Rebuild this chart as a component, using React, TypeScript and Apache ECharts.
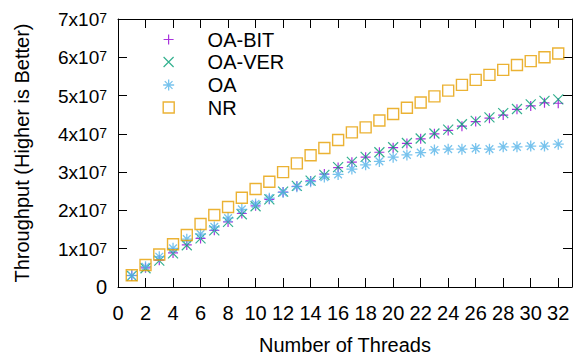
import React, { useEffect, useRef } from "react";
import * as echarts from "echarts";

// Throughput values in units of 10^7
const threads = [1, 2, 3, 4, 5, 6, 7, 8, 9, 10, 11, 12, 13, 14, 15, 16, 17, 18, 19, 20, 21, 22, 23, 24, 25, 26, 27, 28, 29, 30, 31, 32];
const oaBit = [0.30, 0.50, 0.70, 0.89, 1.10, 1.27, 1.48, 1.70, 1.92, 2.12, 2.29, 2.48, 2.63, 2.77, 2.95, 3.12, 3.26, 3.39, 3.52, 3.64, 3.75, 3.87, 4.00, 4.09, 4.20, 4.32, 4.41, 4.49, 4.64, 4.73, 4.81, 4.80];
const oaVer = [0.29, 0.49, 0.69, 0.88, 1.09, 1.27, 1.48, 1.70, 1.90, 2.11, 2.29, 2.49, 2.64, 2.78, 2.93, 3.13, 3.27, 3.40, 3.52, 3.65, 3.76, 3.88, 4.01, 4.11, 4.25, 4.34, 4.43, 4.54, 4.65, 4.77, 4.86, 4.90];
const oa = [0.30, 0.53, 0.79, 1.01, 1.25, 1.38, 1.57, 1.80, 2.03, 2.17, 2.32, 2.47, 2.62, 2.75, 2.87, 2.94, 3.08, 3.19, 3.28, 3.39, 3.45, 3.51, 3.58, 3.60, 3.60, 3.62, 3.60, 3.66, 3.66, 3.68, 3.68, 3.73];
const nr = [0.305, 0.575, 0.85, 1.115, 1.36, 1.645, 1.88, 2.09, 2.33, 2.56, 2.75, 3.00, 3.23, 3.44, 3.63, 3.84, 4.04, 4.17, 4.35, 4.52, 4.68, 4.82, 4.98, 5.13, 5.28, 5.41, 5.54, 5.67, 5.80, 5.90, 6.00, 6.10];
const seriesNames = ["OA-BIT", "OA-VER", "OA", "NR"];
const seriesColors = ["#9400d3", "#009e73", "#56b4e9", "#e69f00"];
const xTickMax = 32;

const FONT = "'Liberation Sans', Arial, Helvetica, sans-serif";
const plusPath = "path://M5 0L5 10M0 5L10 5";
const crossPath = "path://M0 0L10 10M0 10L10 0";
const starPath = "path://M5 0L5 10M0 5L10 5M1.5 1.5L8.5 8.5M1.5 8.5L8.5 1.5";
const symbols = [plusPath, crossPath, starPath, "rect"];
const sizes = [10, 10, 11, 11];
const widths = [1.2, 1.2, 1.3, 1.4];
const legendTops = [29.5, 52, 75, 97.5];

export default function App() {
  const ref = useRef<HTMLDivElement>(null);
  useEffect(() => {
    if (!ref.current) return;
    const chart = echarts.init(ref.current, undefined, { renderer: "svg" });
    const allData = [oaBit, oaVer, oa, nr];
    const axisCommon = {
      axisLine: { show: true, onZero: false, lineStyle: { color: "#000", width: 1 } },
      axisTick: { show: true, inside: true, length: 9, lineStyle: { color: "#000", width: 1 } },
      splitLine: { show: false },
    };
    chart.setOption({
      animation: false,
      backgroundColor: "#fff",
      grid: { left: 118, right: 4, top: 19, bottom: 73, show: false },
      xAxis: [
        {
          type: "value", min: 0, max: 33, interval: 2, position: "bottom",
          ...axisCommon,
          axisLabel: {
            fontSize: 20, color: "#000", fontFamily: FONT, margin: 16,
            formatter: (v: number) => (v > xTickMax ? "" : String(v)),
          },
          name: "Number of Threads", nameLocation: "middle", nameGap: 48,
          nameTextStyle: { fontSize: 20, color: "#000", fontFamily: FONT },
        },
        {
          type: "value", min: 0, max: 33, interval: 2, position: "top",
          ...axisCommon, axisLabel: { show: false },
        },
      ],
      yAxis: [
        {
          type: "value", min: 0, max: 7e7, interval: 1e7, position: "left",
          ...axisCommon,
          axisLabel: {
            color: "#000", fontFamily: FONT, fontSize: 20, margin: 11,
            formatter: (v: number) => (v === 0 ? "0" : `{m|${Math.round(v / 1e7)}x10}{s|7}`),
            rich: {
              m: { fontSize: 19, fontFamily: FONT, color: "#000", lineHeight: 20, padding: [6, 0, 0, 0], verticalAlign: "bottom" },
              s: { fontSize: 14, fontFamily: FONT, color: "#000", lineHeight: 14, padding: [2, 0, 0, 0], verticalAlign: "top" },
            },
          },
          name: "Throughput (Higher is Better)", nameLocation: "middle", nameGap: 86, nameRotate: 90,
          nameTextStyle: { fontSize: 20, color: "#000", fontFamily: FONT },
        },
        {
          type: "value", min: 0, max: 7e7, interval: 1e7, position: "right",
          ...axisCommon, axisLabel: { show: false },
        },
      ],
      legend: seriesNames.map((n, i) => ({
        data: [{ name: n, itemStyle: { color: "rgba(0,0,0,0)", borderColor: seriesColors[i], borderWidth: widths[i] } }],
        left: 168 - sizes[i] / 2, top: legendTops[i], orient: "vertical",
        itemWidth: sizes[i], itemHeight: sizes[i],
        selectedMode: false, padding: 0, itemGap: 0,
        textStyle: { fontSize: 20, color: "#000", fontFamily: FONT, lineHeight: 20, padding: [0, 0, 0, 34 - sizes[i] / 2] },
      })),
      series: seriesNames.map((n, i) => ({
        name: n, type: "scatter", xAxisIndex: 0, yAxisIndex: 0,
        symbol: symbols[i], symbolSize: sizes[i],
        data: threads.map((t, k) => [t, allData[i][k] * 1e7]),
        itemStyle: { color: "rgba(0,0,0,0)", borderColor: seriesColors[i], borderWidth: widths[i] },
        emphasis: { disabled: true },
      })),
    });
    return () => chart.dispose();
  }, []);
  return <div ref={ref} style={{ position: "fixed", left: 0, top: 0, width: 576, height: 360 }} />;
}
